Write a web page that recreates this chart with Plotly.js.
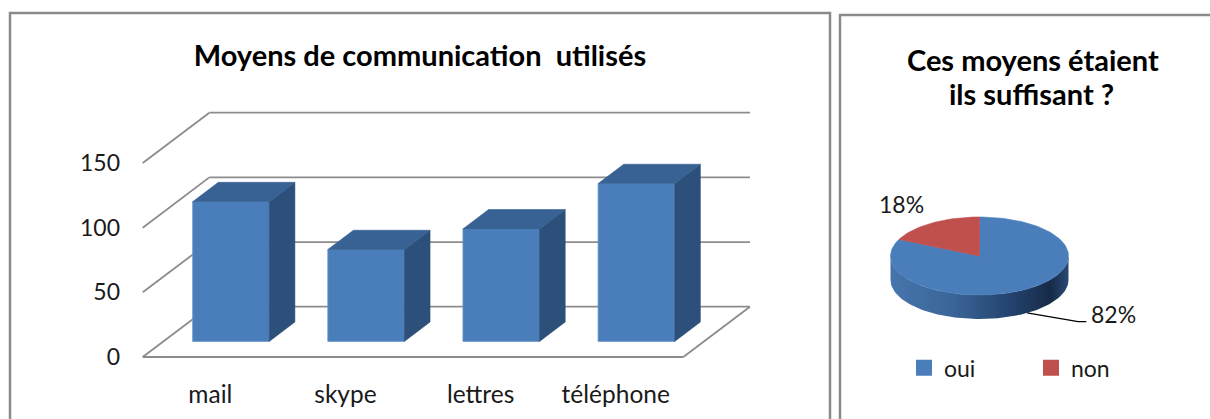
<!DOCTYPE html>
<html><head><meta charset="utf-8">
<script src="https://cdn.plot.ly/plotly-3.0.1.min.js"></script>
<style>html,body{margin:0;padding:0;background:#fff}#chart{width:1210px;height:419px}</style>
</head><body><div id="chart"></div>
<script>
// ---------- data ----------
const categories = ['mail', 'skype', 'lettres', 'téléphone'];
const usage = [108, 71, 87, 122];
const yTicks = [0, 50, 100, 150];
const pieLabels = ['oui', 'non'];
const pieValues = [82, 18];
const pieColors = ['#4a7ebb', '#c0504d'];
const barTitle = 'Moyens de communication  utilisés';
const pieTitleLines = ['Ces moyens étaient', 'ils suffisant ?'];

// ---------- geometry (styling only) ----------
const W = 1210, H = 419;
const FONT = 'Lato, "Open Sans", sans-serif';
const PXU = 135.15;            // px per category
const VPX = 1.2933;            // px per value unit
const depthX = 66.6 / PXU;     // floor depth in x units
const depthY = 50.3 / VPX;     // floor depth in value units
const barW = 76.6 / PXU;
const f0 = 0.31, f1 = 0.695;   // depth fractions of the bars
const gridColor = '#8c8c8c';

// bar chart pieces
const shapes = [];
const line = (x0, y0, x1, y1, w) => shapes.push({type: 'line', xref: 'x', yref: 'y', x0, y0, x1, y1,
  line: {color: gridColor, width: w || 1.8}, layer: 'below'});
const xL = -0.5, xR = categories.length - 0.5;
yTicks.forEach(v => {
  line(xL, v, xL + depthX, v + depthY);
  line(xL + depthX, v + depthY, xR + depthX, v + depthY);
});
line(xL, 0, xR, 0);
line(xR, 0, xR + depthX, depthY);

const frontX = categories.map((c, i) => i + f0 * depthX);
const base0 = f0 * depthY;
const ddx = (f1 - f0) * depthX, ddy = (f1 - f0) * depthY;
const sideX = [], sideY = [], topX = [], topY = [];
usage.forEach((v, i) => {
  const a = frontX[i] - barW / 2, b = frontX[i] + barW / 2, t = base0 + v;
  sideX.push(b, b + ddx, b + ddx, b, b, null);
  sideY.push(base0, base0 + ddy, t + ddy, t, base0, null);
  topX.push(a, a + ddx, b + ddx, b, a, null);
  topY.push(t, t + ddy, t + ddy, t, t, null);
});

const traces = [
  {type: 'bar', x: frontX, y: usage, base: base0, width: barW, xaxis: 'x', yaxis: 'y',
   marker: {color: '#4a7ebb', line: {color: '#6a96cc', width: 0.8}}, showlegend: false, hoverinfo: 'skip'},
  {type: 'scatter', x: sideX, y: sideY, mode: 'lines', fill: 'toself', fillcolor: '#2c5079',
   line: {width: 0.6, color: '#2c5079'}, xaxis: 'x', yaxis: 'y', showlegend: false, hoverinfo: 'skip'},
  {type: 'scatter', x: topX, y: topY, mode: 'lines', fill: 'toself', fillcolor: '#376293',
   line: {width: 0.6, color: '#376293'}, xaxis: 'x', yaxis: 'y', showlegend: false, hoverinfo: 'skip'}
];

// ---------- 3D pie (unit ellipse coordinates) ----------
const thick = 24 / 39;
const total = pieValues.reduce((s, v) => s + v, 0);
let acc = 0;
const slices = pieValues.map(v => { const s = acc; acc += v / total * 360; return [s, acc]; });
const rad = d => d * Math.PI / 180;
const arc = (a, b, dy) => {
  const n = Math.max(2, Math.ceil(Math.abs(b - a) / 2));
  const xs = [], ys = [];
  for (let k = 0; k <= n; k++) { const p = rad(a + (b - a) * k / n); xs.push(Math.sin(p)); ys.push(Math.cos(p) + dy); }
  return [xs, ys];
};
// visible side of the slices (front half: 90..270 deg)
slices.forEach(([s, e], k) => {
  const a = Math.max(s, 90), b = Math.min(e, 270);
  if (b <= a) return;
  const [tx, ty] = arc(a, b, 0), [bx, by] = arc(b, a, -thick);
  traces.push({type: 'scatter', x: tx.concat(bx, [tx[0]]), y: ty.concat(by, [ty[0]]), mode: 'lines',
    fill: 'toself', fillgradient: {type: 'horizontal', start: -1, stop: 1,
      colorscale: k === 0 ? [[0, '#4675ad'], [0.35, '#3a6598'], [0.7, '#22406a'], [0.9, '#172b48'], [1, '#2a4a75']]
                          : [[0, '#c0504d'], [1, '#6e2c2a']]},
    line: {width: 0}, xaxis: 'x2', yaxis: 'y2', showlegend: false, hoverinfo: 'skip'});
});
slices.forEach(([s, e], k) => {
  const [ax, ay] = arc(s, e, 0);
  traces.push({type: 'scatter', x: [0].concat(ax, [0]), y: [0].concat(ay, [0]), mode: 'lines',
    fill: 'toself', fillcolor: pieColors[k], line: {width: 0.6, color: pieColors[k]},
    xaxis: 'x2', yaxis: 'y2', showlegend: false, hoverinfo: 'skip'});
});
// leader line for the big slice
const mid0 = rad((slices[0][0] + slices[0][1]) / 2);
traces.push({type: 'scatter', mode: 'lines', x: [Math.sin(mid0), 1.107, 1.2], y: [Math.cos(mid0) - thick, -1.685, -1.685],
  line: {color: '#000', width: 1.3}, xaxis: 'x2', yaxis: 'y2', showlegend: false, hoverinfo: 'skip'});
// legend entries
pieLabels.forEach((l, k) => traces.push({type: 'scatter', mode: 'markers', x: [null], y: [null], name: l,
  marker: {symbol: 'square', size: 16, color: pieColors[k]}, xaxis: 'x2', yaxis: 'y2',
  legend: k === 0 ? 'legend' : 'legend2'}));

const pct = pieValues.map(v => Math.round(v / total * 100) + '%');
const txtFont = {family: FONT, size: 23, color: '#1a1a1a'};
const catFont = {family: FONT, size: 24.5, color: '#1a1a1a'};
const titleFont = {family: FONT, size: 29, weight: 'bold', color: '#000'};

// panel borders
shapes.push({type: 'rect', xref: 'paper', yref: 'paper', x0: 10 / W, x1: 830 / W, y0: -0.1, y1: 1 - 13 / H,
  line: {color: '#8a8a8a', width: 2.5}, fillcolor: 'rgba(0,0,0,0)'});
shapes.push({type: 'rect', xref: 'paper', yref: 'paper', x0: 840 / W, x1: 1.1, y0: -0.1, y1: 1 - 15 / H,
  line: {color: '#8a8a8a', width: 2.5}, fillcolor: 'rgba(0,0,0,0)'});

const layout = {
  width: W, height: H, margin: {l: 0, r: 0, t: 0, b: 0},
  paper_bgcolor: '#fff', plot_bgcolor: 'rgba(0,0,0,0)',
  font: {family: FONT, color: '#1a1a1a'},
  title: {text: barTitle, x: 420 / W, xanchor: 'center', y: 1 - 56 / H, yanchor: 'middle', font: titleFont},
  xaxis: {domain: [10 / W, 830 / W], range: [(10 - 210.3) / PXU, (830 - 210.3) / PXU],
    tickvals: categories.map((c, i) => i), ticktext: categories, showgrid: false, zeroline: false,
    showline: false, ticks: '', anchor: 'free', position: 1 - 377 / H, tickfont: catFont, fixedrange: true},
  yaxis: {domain: [0, 1], range: [(357 - 419) / VPX, 357 / VPX], tickvals: yTicks,
    showgrid: false, zeroline: false, showline: false, ticks: '', anchor: 'free', position: 120 / W,
    tickfont: txtFont, fixedrange: true},
  xaxis2: {domain: [840 / W, 1], range: [(840 - 979.5) / 89, (1210 - 979.5) / 89], visible: false, fixedrange: true},
  yaxis2: {domain: [0, 1], range: [(256 - 419) / 39, 256 / 39], visible: false, fixedrange: true},
  shapes: shapes,
  annotations: [
    {text: pieTitleLines[0], xref: 'paper', yref: 'paper', x: 1033 / W, y: 1 - 59 / H, xanchor: 'center', yanchor: 'middle',
     showarrow: false, font: titleFont},
    {text: pieTitleLines[1], xref: 'paper', yref: 'paper', x: 1031 / W, y: 1 - 93 / H, xanchor: 'center', yanchor: 'middle',
     showarrow: false, font: titleFont},
    {text: pct[1], xref: 'x2', yref: 'y2', x: (901 - 979.5) / 89, y: (256 - 204) / 39, showarrow: false, font: txtFont},
    {text: pct[0], xref: 'x2', yref: 'y2', x: (1089 - 979.5) / 89, y: (256 - 314) / 39, xanchor: 'left', showarrow: false, font: txtFont}
  ],
  legend: {x: (924 - 20) / W, y: 1 - 367.7 / H, xanchor: 'left', yanchor: 'middle', bgcolor: 'rgba(0,0,0,0)', font: txtFont},
  legend2: {x: (1051 - 20) / W, y: 1 - 367.7 / H, xanchor: 'left', yanchor: 'middle', bgcolor: 'rgba(0,0,0,0)', font: txtFont},
  showlegend: true
};
Plotly.newPlot('chart', traces, layout, {displayModeBar: false, staticPlot: true});
</script></body></html>
